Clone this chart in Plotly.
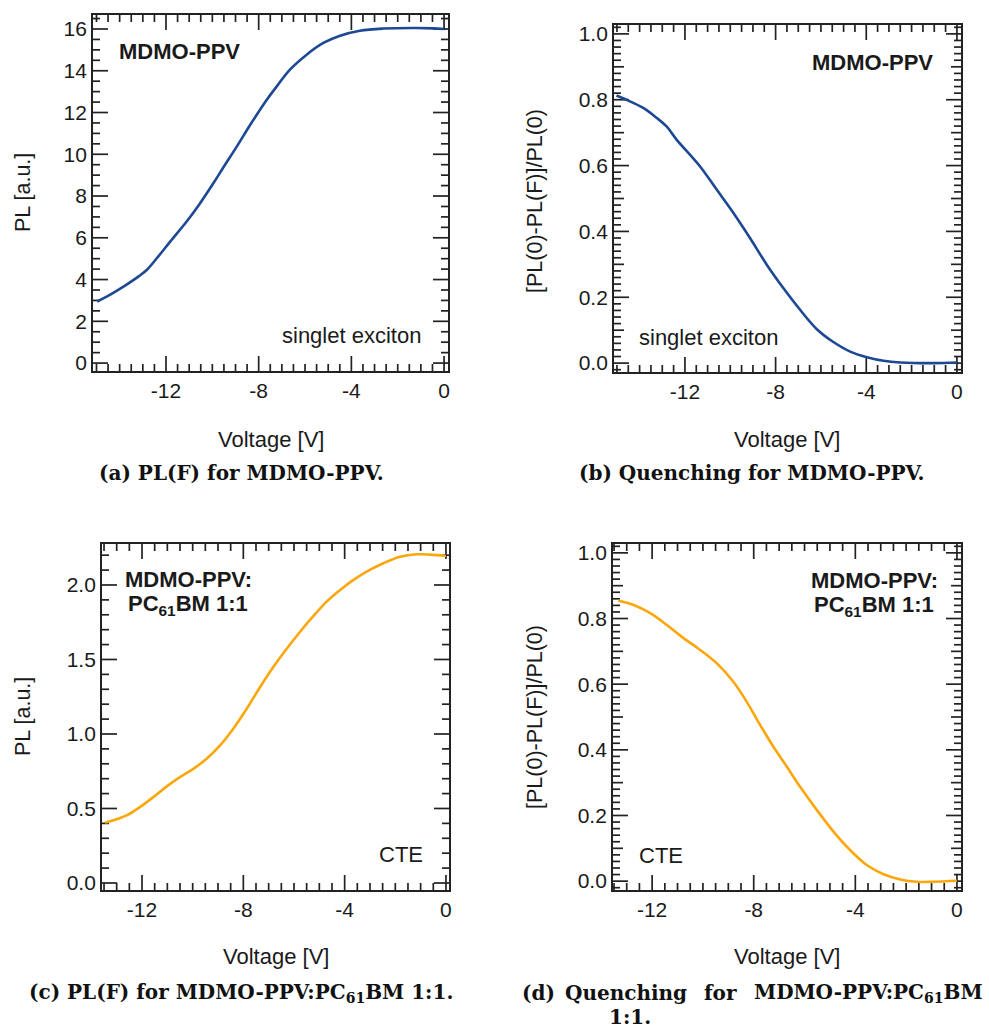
import numpy as np
import plotly.graph_objects as go

W, H = 989, 1035

# ---------------- data ----------------
v_a = [-14.97, -14.54, -13.82, -13.18, -12.82, -12.39, -11.81, -11.1, -10.52, -9.95, -9.52,
       -8.94, -8.37, -7.65, -7.22, -6.65, -5.93, -5.21, -4.49, -3.63, -2.63, -1.19, -0.47, 0.0]
pl_a = [2.95, 3.19, 3.67, 4.15, 4.47, 5.03, 5.83, 6.79, 7.67, 8.62, 9.38,
        10.38, 11.4, 12.61, 13.25, 14.05, 14.77, 15.33, 15.68, 15.92, 16.02, 16.05, 16.03, 16.0]

v_b = [-15.02, -14.58, -13.84, -13.25, -12.81, -12.37, -11.34, -10.6, -9.86, -9.13, -8.39,
       -7.66, -6.92, -6.18, -5.45, -4.71, -3.97, -3.24, -2.5, -1.03, 0.0]
q_b = [0.813, 0.80, 0.775, 0.745, 0.719, 0.679, 0.598, 0.527, 0.456, 0.380, 0.299,
       0.228, 0.162, 0.103, 0.064, 0.035, 0.018, 0.007, 0.002, 0.0, 0.002]

v_c = [-13.45, -13.12, -12.59, -12.07, -11.54, -11.01, -10.49, -9.96, -9.44, -8.91, -8.39,
       -7.86, -7.33, -6.81, -6.28, -5.76, -5.23, -4.71, -4.18, -3.65, -3.13, -2.47, -1.81,
       -1.16, -0.63, 0.0]
pl_c = [0.405, 0.421, 0.455, 0.511, 0.578, 0.650, 0.712, 0.768, 0.835, 0.925, 1.037,
        1.171, 1.317, 1.451, 1.574, 1.686, 1.792, 1.888, 1.966, 2.034, 2.090, 2.146, 2.19,
        2.206, 2.204, 2.195]

v_d = [-13.34, -12.75, -12.09, -11.43, -10.78, -10.12, -9.46, -8.81, -8.28, -7.75, -7.23,
       -6.70, -6.18, -5.52, -4.86, -4.21, -3.55, -2.89, -2.23, -1.58, -0.92, 0.0]
q_d = [0.855, 0.842, 0.817, 0.781, 0.741, 0.705, 0.664, 0.608, 0.547, 0.476, 0.41,
       0.349, 0.288, 0.217, 0.151, 0.095, 0.049, 0.021, 0.005, -0.002, -0.002, 0.001]

x_tickvals = [-12, -8, -4, 0]
x_ticktext = ["-12", "-8", "-4", "0"]

BLUE = "#1d4894"
ORANGE = "#fba70c"
FRAME = "#222222"
SANS = "Liberation Sans, Arial, sans-serif"
SERIF = "DejaVu Serif, serif"


def px_x(x):
    return x / W


def px_y(y):
    return 1 - y / H


# panel: key, x, y, colour, box(l, r, t, b), xrange, yrange, y major, y minor, y medium, y label format
panels = [
    ("", v_a, pl_a, BLUE, (93, 448, 15, 371), [-15.15, 0.17], [-0.38, 16.67], 2, 0.5, None, "d"),
    ("2", v_b, q_b, BLUE, (614, 961, 25, 372), [-15.13, 0.18], [-0.027, 1.027], 0.2, 0.02, 0.1, ".1f"),
    ("3", v_c, pl_c, ORANGE, (102, 449, 544, 890), [-13.58, 0.12], [-0.047, 2.275], 0.5, 0.1, None, ".1f"),
    ("4", v_d, q_d, ORANGE, (613, 961, 544, 890), [-13.54, 0.16], [-0.027, 1.027], 0.2, 0.02, 0.1, ".1f"),
]


def steps(lo, hi, step):
    k0 = int(np.ceil(lo / step - 1e-9))
    k1 = int(np.floor(hi / step + 1e-9))
    return [round(k * step, 6) for k in range(k0, k1 + 1)]


def is_mult(v, step):
    return abs(v / step - round(v / step)) < 1e-6


fig = go.Figure()
layout = {}
for n, xs, ys, col, box, xr, yr, ymaj, ymin, ymed, fmt in panels:
    l, r, t, b = box
    kx = (xr[1] - xr[0]) / (r - l)   # data units per pixel
    ky = (yr[1] - yr[0]) / (b - t)
    tx, ty = [], []
    # x ticks (bottom and top edges), major every 4 V, minor every 0.5 V
    for v in steps(xr[0], xr[1], 0.5):
        L = 15 if is_mult(v, 4) else 7
        tx += [v, v, None, v, v, None]
        ty += [yr[0], yr[0] + L * ky, None, yr[1], yr[1] - L * ky, None]
    # y ticks (left and right edges)
    for v in steps(yr[0], yr[1], ymin):
        if is_mult(v, ymaj):
            L = 15
        elif ymed and is_mult(v, ymed):
            L = 10
        else:
            L = 7
        tx += [xr[0], xr[0] + L * kx, None, xr[1], xr[1] - L * kx, None]
        ty += [v, v, None, v, v, None]
    fig.add_trace(go.Scatter(x=tx, y=ty, mode="lines", line=dict(color=FRAME, width=1.7),
                             xaxis="x" + n, yaxis="y" + n, showlegend=False, hoverinfo="skip",
                             connectgaps=False))
    fig.add_trace(go.Scatter(x=xs, y=ys, mode="lines", line=dict(color=col, width=2.6, shape="spline"),
                             xaxis="x" + n, yaxis="y" + n, showlegend=False, hoverinfo="skip"))
    common = dict(showline=True, linecolor=FRAME, linewidth=1.8, mirror=True, ticks="",
                  showgrid=False, zeroline=False,
                  tickfont=dict(family=SANS, size=21, color="#1a1a1a"))
    layout["xaxis" + n] = dict(common, domain=[px_x(l), px_x(r)], range=xr, anchor="y" + n,
                               tickmode="array", tickvals=x_tickvals, ticktext=x_ticktext)
    layout["yaxis" + n] = dict(common, domain=[px_y(b), px_y(t)], range=yr, anchor="x" + n,
                               tickmode="linear", tick0=0, dtick=ymaj, tickformat=fmt)

ann = []


def text(x, y, s, size=22, bold=False, font=SANS, xanchor="center", angle=0, color="#1a1a1a"):
    if bold:
        s = "<b>" + s + "</b>"
    ann.append(dict(x=px_x(x), y=px_y(y), xref="paper", yref="paper", text=s, showarrow=False,
                    xanchor=xanchor, yanchor="middle", textangle=angle,
                    font=dict(family=font, size=size, color=color)))


# axis titles
text(23, 193, "PL [a.u.]", angle=-90, size=21.5)
text(535, 201, "[PL(0)-PL(F)]/PL(0)", angle=-90, size=21.5)
text(23, 717, "PL [a.u.]", angle=-90, size=21.5)
text(535, 717, "[PL(0)-PL(F)]/PL(0)", angle=-90, size=21.5)
text(271, 439, "Voltage [V]")
text(787, 439, "Voltage [V]")
text(276, 956, "Voltage [V]")
text(787, 956, "Voltage [V]")

# in-plot labels
text(117, 52, "MDMO-PPV", bold=True, xanchor="left")
text(423, 335, "singlet exciton", xanchor="right")
text(935, 62, "MDMO-PPV", bold=True, xanchor="right")
text(637, 337, "singlet exciton", xanchor="left")
text(188, 579, "MDMO-PPV:", bold=True)
text(188, 605, "PC<sub>61</sub>BM 1:1", bold=True)
text(425, 854, "CTE", xanchor="right")
text(874, 580, "MDMO-PPV:", bold=True)
text(874, 606, "PC<sub>61</sub>BM 1:1", bold=True)
text(637, 855, "CTE", xanchor="left")

# captions
CAP = 20
text(241, 473, "(a) PL(F) for MDMO-PPV.", size=CAP, bold=True, font=SERIF, color="#111")
text(752, 473, "(b) Quenching for MDMO-PPV.", size=CAP, bold=True, font=SERIF, color="#111")
text(241, 993, "(c) PL(F) for MDMO-PPV:PC<sub>61</sub>BM 1:1.", size=CAP, bold=True, font=SERIF, color="#111")
text(520, 993, "(d)", size=CAP, bold=True, font=SERIF, xanchor="left", color="#111")
text(563, 993, "Quenching", size=CAP, bold=True, font=SERIF, xanchor="left", color="#111")
text(702, 993, "for", size=CAP, bold=True, font=SERIF, xanchor="left", color="#111")
text(985, 993, "MDMO-PPV:PC<sub>61</sub>BM", size=CAP, bold=True, font=SERIF, xanchor="right", color="#111")
text(607, 1017, "1:1.", size=CAP, bold=True, font=SERIF, xanchor="left", color="#111")

fig.update_layout(template="none", width=W, height=H, margin=dict(l=0, r=0, t=0, b=0),
                  paper_bgcolor="white", plot_bgcolor="white", showlegend=False,
                  annotations=ann, **layout)

fig.write_html("out.html")
